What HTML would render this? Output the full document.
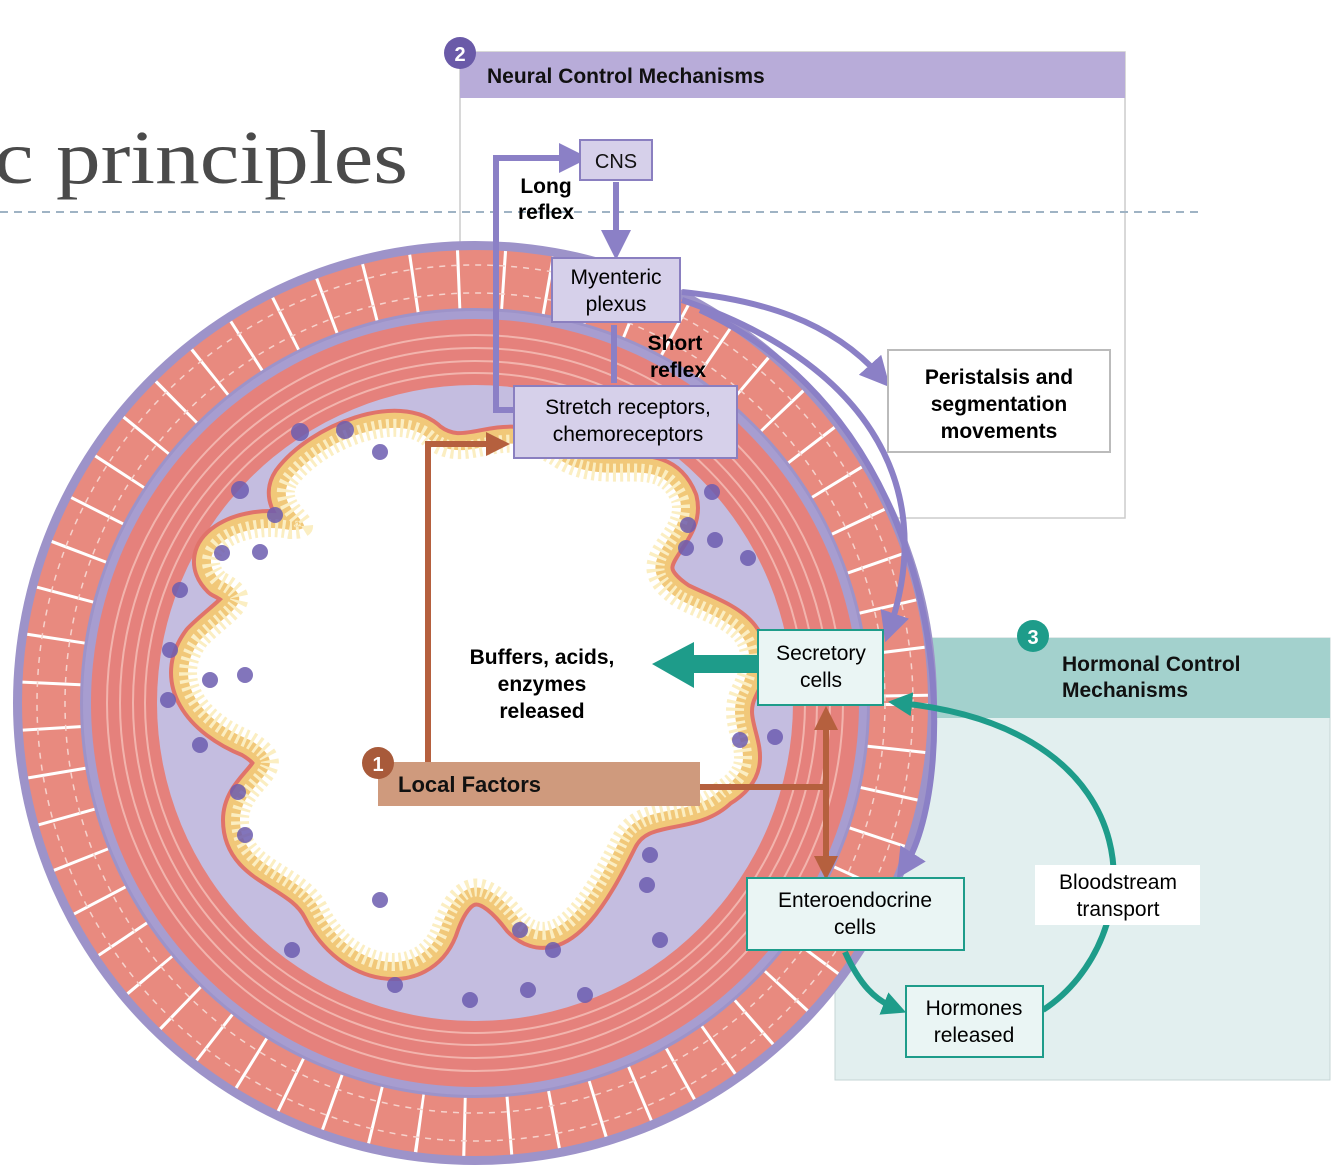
<!DOCTYPE html>
<html><head><meta charset="utf-8"><style>
html,body{margin:0;padding:0;background:#fff;}
svg{display:block;font-family:"Liberation Sans",Arial,sans-serif;}
.b{font-weight:bold;}
</style></head><body>
<svg width="1334" height="1174" viewBox="0 0 1334 1174" xmlns="http://www.w3.org/2000/svg">
<defs>
<marker id="ap" markerWidth="5" markerHeight="5" refX="2.5" refY="2.5" orient="auto" markerUnits="strokeWidth"><path d="M0,0 L5,2.5 L0,5 z" fill="#8b80c6"/></marker>
<marker id="at" markerWidth="4" markerHeight="4" refX="2" refY="2" orient="auto" markerUnits="strokeWidth"><path d="M0,0 L4,2 L0,4 z" fill="#1e9c8a"/></marker>
<marker id="ab" markerWidth="4" markerHeight="4" refX="2" refY="2" orient="auto" markerUnits="strokeWidth"><path d="M0,0 L4,2 L0,4 z" fill="#b5603e"/></marker>
<path id="lum" d="M290,480 C320,440 400,410 430,440 C470,470 500,420 560,460 C610,490 660,450 680,500 C690,540 620,560 680,600 C720,620 770,630 740,690 C720,730 770,760 720,790 C690,820 640,800 620,840 C600,880 560,960 520,920 C490,880 460,870 440,930 C420,980 350,970 320,910 C300,870 240,870 240,820 C240,780 300,770 250,740 C200,720 170,680 200,640 C230,610 260,600 220,580 C190,550 240,520 290,530 C330,530 270,510 290,480 Z"/>
</defs>
<!-- title -->
<text x="-6" y="183" font-family="Liberation Serif,serif" font-size="76" fill="#4a4a4a" textLength="414" lengthAdjust="spacingAndGlyphs">c principles</text>
<!-- neural box -->
<rect x="460" y="52" width="665" height="466" fill="#fff" stroke="#ccc" stroke-width="1.5"/>
<rect x="460" y="52" width="665" height="46" fill="#b8acd9"/>
<text x="487" y="83" font-size="21" class="b" fill="#111">Neural Control Mechanisms</text>
<circle cx="460" cy="53" r="16" fill="#6a5aa8"/><text x="460" y="61" font-size="20" class="b" fill="#fff" text-anchor="middle">2</text>
<line x1="0" y1="212" x2="1200" y2="212" stroke="#9fb3c4" stroke-width="2" stroke-dasharray="8 6"/>
<!-- hormonal box -->
<rect x="835" y="638" width="495" height="442" fill="#e2efef" stroke="#c5d6d6"/>
<rect x="835" y="638" width="495" height="80" fill="#a3d1cd"/>
<text x="1062" y="671" font-size="21" class="b" fill="#111">Hormonal Control</text>
<text x="1062" y="697" font-size="21" class="b" fill="#111">Mechanisms</text>
<circle cx="1033" cy="636" r="16" fill="#1e9c8a"/><text x="1033" y="644" font-size="20" class="b" fill="#fff" text-anchor="middle">3</text>
<!-- tissue -->
<circle cx="475" cy="703" r="462" fill="#9d93c9"/>
<circle cx="475" cy="703" r="424" fill="none" stroke="#e88a7f" stroke-width="58"/>
<circle cx="475" cy="703" r="424" fill="none" stroke="#fff" stroke-width="58" stroke-dasharray="3 42"/>
<circle cx="475" cy="703" r="410" fill="none" stroke="#f6d2cc" stroke-width="1.5" stroke-dasharray="6 6"/>
<circle cx="475" cy="703" r="438" fill="none" stroke="#f6d2cc" stroke-width="1.5" stroke-dasharray="6 6"/>
<circle cx="475" cy="703" r="392" fill="#a79dd0"/>
<circle cx="475" cy="703" r="384" fill="#e5817c"/>
<circle cx="475" cy="703" r="368" fill="none" stroke="#f2b4ad" stroke-width="2"/>
<circle cx="475" cy="703" r="355" fill="none" stroke="#f2b4ad" stroke-width="2"/>
<circle cx="475" cy="703" r="342" fill="none" stroke="#f2b4ad" stroke-width="2"/>
<circle cx="475" cy="703" r="330" fill="none" stroke="#f2b4ad" stroke-width="2"/>
<circle cx="475" cy="703" r="318" fill="#c4bde0"/>
<use href="#lum" fill="none" stroke="#e0736a" stroke-width="38" stroke-linejoin="round"/>
<use href="#lum" fill="#fff" stroke="#f1c879" stroke-width="30" stroke-linejoin="round"/>
<use href="#lum" fill="#fff" stroke="#fbeec2" stroke-width="18" stroke-dasharray="3 4" stroke-linejoin="round"/>
<g fill="#6d5db0" opacity="0.85">
<circle cx="300" cy="432" r="9"/><circle cx="345" cy="430" r="9"/><circle cx="380" cy="452" r="8"/><circle cx="240" cy="490" r="9"/><circle cx="275" cy="515" r="8"/><circle cx="222" cy="553" r="8"/><circle cx="260" cy="552" r="8"/><circle cx="180" cy="590" r="8"/><circle cx="170" cy="650" r="8"/><circle cx="168" cy="700" r="8"/><circle cx="210" cy="680" r="8"/><circle cx="245" cy="675" r="8"/><circle cx="200" cy="745" r="8"/><circle cx="238" cy="792" r="8"/><circle cx="245" cy="835" r="8"/><circle cx="292" cy="950" r="8"/><circle cx="380" cy="900" r="8"/><circle cx="395" cy="985" r="8"/><circle cx="470" cy="1000" r="8"/><circle cx="528" cy="990" r="8"/><circle cx="585" cy="995" r="8"/><circle cx="520" cy="930" r="8"/><circle cx="553" cy="950" r="8"/><circle cx="650" cy="855" r="8"/><circle cx="660" cy="940" r="8"/><circle cx="712" cy="492" r="8"/><circle cx="688" cy="525" r="8"/><circle cx="715" cy="540" r="8"/><circle cx="686" cy="548" r="8"/><circle cx="748" cy="558" r="8"/><circle cx="740" cy="740" r="8"/><circle cx="775" cy="737" r="8"/><circle cx="647" cy="885" r="8"/>
</g>
<!-- neural arrows -->
<g fill="none" stroke="#8b80c6" stroke-width="6">
<path d="M516,410 L496,410 L496,158 L574,158" marker-end="url(#ap)"/>
<path d="M616,182 L616,245" marker-end="url(#ap)"/>
<line x1="614" y1="325" x2="614" y2="383"/>
<path d="M682,292 C760,300 830,320 880,376" marker-end="url(#ap)"/>
<path d="M682,300 C860,360 940,480 890,628" marker-end="url(#ap)"/>
<path d="M700,310 C960,430 960,780 905,866" marker-end="url(#ap)"/>
</g>
<!-- local factor arrows -->
<g fill="none" stroke="#b5603e" stroke-width="6">
<path d="M428,765 L428,444 L498,444" marker-end="url(#ab)"/>
<line x1="700" y1="787" x2="826" y2="787"/>
<path d="M826,720 L826,866" />
<path d="M826,850 L826,868" marker-end="url(#ab)"/>
<path d="M826,740 L826,718" marker-end="url(#ab)"/>
</g>
<!-- teal arrows -->
<path d="M758,664 L690,664" stroke="#1e9c8a" stroke-width="18" fill="none"/>
<polygon points="694,642 652,664 694,688" fill="#1e9c8a"/>
<g fill="none" stroke="#1e9c8a" stroke-width="6">
<path d="M1043,1010 C1150,940 1160,730 900,703" marker-end="url(#at)"/>
<path d="M845,952 C860,985 875,1000 895,1008" marker-end="url(#at)"/>
</g>
<!-- boxes -->
<rect x="580" y="140" width="72" height="40" fill="#d6d0ea" stroke="#8a7fc0" stroke-width="2"/>
<text x="616" y="168" font-size="20" text-anchor="middle" fill="#111">CNS</text>
<text x="546" y="193" font-size="21" class="b" text-anchor="middle">Long</text>
<text x="546" y="219" font-size="21" class="b" text-anchor="middle">reflex</text>
<rect x="552" y="258" width="128" height="64" fill="#d6d0ea" stroke="#8a7fc0" stroke-width="2"/>
<text x="616" y="284" font-size="21" text-anchor="middle">Myenteric</text>
<text x="616" y="311" font-size="21" text-anchor="middle">plexus</text>
<text x="675" y="350" font-size="21" class="b" text-anchor="middle">Short</text>
<text x="678" y="377" font-size="21" class="b" text-anchor="middle">reflex</text>
<rect x="514" y="386" width="223" height="72" fill="#d6d0ea" stroke="#8a7fc0" stroke-width="2"/>
<text x="628" y="414" font-size="21" text-anchor="middle">Stretch receptors,</text>
<text x="628" y="441" font-size="21" text-anchor="middle">chemoreceptors</text>
<rect x="888" y="350" width="222" height="102" fill="#fff" stroke="#bbb" stroke-width="2"/>
<text x="999" y="384" font-size="21" class="b" text-anchor="middle">Peristalsis and</text>
<text x="999" y="411" font-size="21" class="b" text-anchor="middle">segmentation</text>
<text x="999" y="438" font-size="21" class="b" text-anchor="middle">movements</text>
<rect x="758" y="630" width="125" height="75" fill="#eaf5f4" stroke="#1e9c8a" stroke-width="2"/>
<text x="821" y="660" font-size="21" text-anchor="middle">Secretory</text>
<text x="821" y="687" font-size="21" text-anchor="middle">cells</text>
<text x="542" y="664" font-size="21" class="b" text-anchor="middle">Buffers, acids,</text>
<text x="542" y="691" font-size="21" class="b" text-anchor="middle">enzymes</text>
<text x="542" y="718" font-size="21" class="b" text-anchor="middle">released</text>
<rect x="378" y="762" width="322" height="44" fill="#cf9a7d"/>
<text x="398" y="792" font-size="22" class="b" fill="#111">Local Factors</text>
<circle cx="378" cy="763" r="16" fill="#a85a3a"/><text x="378" y="771" font-size="20" class="b" fill="#fff" text-anchor="middle">1</text>
<rect x="747" y="878" width="217" height="72" fill="#eaf5f4" stroke="#1e9c8a" stroke-width="2"/>
<text x="855" y="907" font-size="21" text-anchor="middle">Enteroendocrine</text>
<text x="855" y="934" font-size="21" text-anchor="middle">cells</text>
<rect x="1035" y="865" width="165" height="60" fill="#fff"/>
<text x="1118" y="889" font-size="21" text-anchor="middle">Bloodstream</text>
<text x="1118" y="916" font-size="21" text-anchor="middle">transport</text>
<rect x="906" y="986" width="137" height="71" fill="#eaf5f4" stroke="#1e9c8a" stroke-width="2"/>
<text x="974" y="1015" font-size="21" text-anchor="middle">Hormones</text>
<text x="974" y="1042" font-size="21" text-anchor="middle">released</text>
</svg>
</body></html>
